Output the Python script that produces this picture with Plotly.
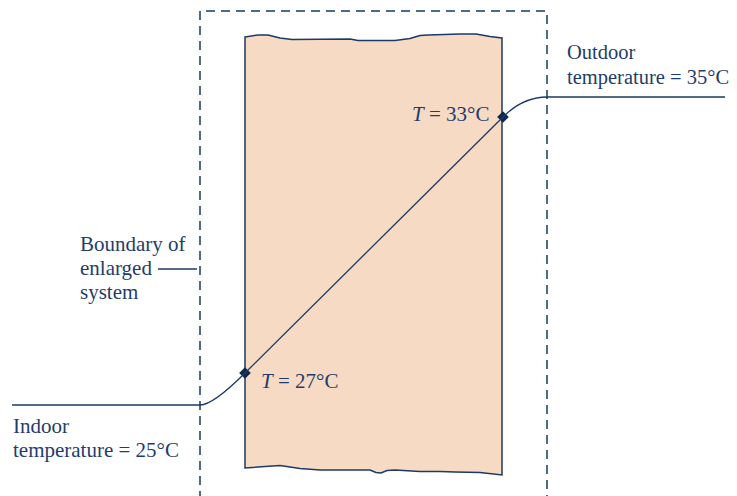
import plotly.graph_objects as go

# ---- data ----
node_labels = ["Indoor temperature", "Inner surface", "Outer surface", "Outdoor temperature"]
node_temps = [25, 27, 33, 35]
# profile polyline anchors (pixel-space diagram coordinates)
profile_x = [12, 200, 245, 503, 547, 725]
profile_y = [405, 405, 373, 117, 97, 97]
# wall edges
wall_top_x = [245, 258, 268, 280, 292, 350, 358, 395, 410, 420, 428, 460, 476, 490, 502]
wall_top_y = [37, 35, 35, 38, 39.5, 39, 40.5, 40.5, 38.5, 35.5, 35, 34, 34, 36.5, 38]
wall_bot_x = [245, 280, 300, 320, 370, 376, 381, 387, 395, 420, 440, 455, 480, 502]
wall_bot_y = [468, 465.5, 468.5, 470, 470, 472.5, 473, 470.5, 470, 471.5, 471.5, 472, 472.5, 475]
box_x = [200, 547]
box_top = 11

NAVY = "#1b3a66"
TXT = "#1f3d6b"
DASH = "#4d6b8c"
FONT = "Liberation Serif"
FS = 21
OFF = 8  # page body margin

fig = go.Figure()

# wall path
p = f"M {wall_top_x[0]},{wall_top_y[0]} "
for x, y in zip(wall_top_x[1:], wall_top_y[1:]):
    p += f"L {x},{y} "
for x, y in zip(reversed(wall_bot_x), reversed(wall_bot_y)):
    p += f"L {x},{y} "
p += "Z"
fig.add_shape(type="path", path=p, fillcolor="#f6dac4", line=dict(color=NAVY, width=1.5), layer="below")

# dashed boundary
fig.add_shape(type="path",
              path=f"M {box_x[0]},500 L {box_x[0]},{box_top} L {box_x[1]},{box_top} L {box_x[1]},500",
              line=dict(color=DASH, width=2, dash="9px,6px"))

# temperature profile: straight + quadratic bends
cx1 = profile_x[2] - (profile_y[1] - profile_y[2])
cx2 = profile_x[3] + (profile_y[3] - profile_y[4])
prof = (f"M {profile_x[0]},{profile_y[0]} L {profile_x[1]},{profile_y[1]} "
        f"Q {cx1},{profile_y[1]} {profile_x[2]},{profile_y[2]} "
        f"L {profile_x[3]},{profile_y[3]} "
        f"Q {cx2},{profile_y[4]} {profile_x[4]},{profile_y[4]} "
        f"L {profile_x[5]},{profile_y[5]}")
fig.add_shape(type="path", path=prof, line=dict(color=NAVY, width=1.3))

# leader line
fig.add_shape(type="line", x0=158, x1=197, y0=269, y1=269, line=dict(color=NAVY, width=1.3))

# surface dots
fig.add_trace(go.Scatter(x=[profile_x[2], profile_x[3]], y=[profile_y[2], profile_y[3]],
                         mode="markers", marker=dict(symbol="diamond", size=9, color="#0f2a50"),
                         hoverinfo="skip", showlegend=False))

def txt(x, y, s, anchor="left", size=FS):
    fig.add_annotation(x=x, y=y, text=s, showarrow=False, xanchor=anchor, yanchor="middle",
                       font=dict(family=FONT, size=size, color=TXT))

txt(565, 52, "Outdoor", size=20.5)
txt(565, 77, f"temperature = {node_temps[3]}°C", size=20.5)
txt(491, 114, f"<i>T</i> = {node_temps[2]}°C", "right")
txt(259, 381, f"<i>T</i> = {node_temps[1]}°C")
txt(78, 244, "Boundary of")
txt(78, 268, "enlarged")
txt(78, 292, "system")
txt(11, 426, "Indoor")
txt(11, 450, f"temperature = {node_temps[0]}°C")

fig.update_layout(width=737 - OFF, height=496 - OFF, margin=dict(l=0, r=0, t=0, b=0),
                  paper_bgcolor="white", plot_bgcolor="white", showlegend=False,
                  xaxis=dict(range=[OFF, 737], visible=False, fixedrange=True),
                  yaxis=dict(range=[496, OFF], visible=False, fixedrange=True))
fig.write_html("out.html")
